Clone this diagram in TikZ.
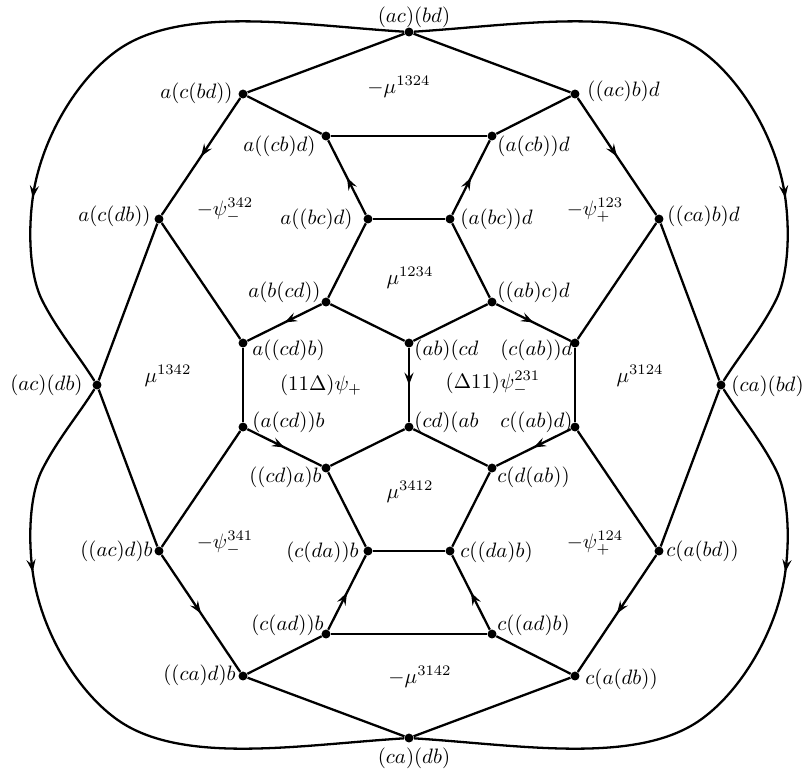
\documentclass[tikz,border=0pt]{standalone}
\usetikzlibrary{arrows.meta,decorations.markings}
\begin{document}
\begin{tikzpicture}[x=0.48pt,y=-0.48pt,
  dot/.style={circle,fill=black,inner sep=0pt,minimum size=4.3pt},
  edge/.style={line width=1.1pt},
  midarrow/.style={decoration={markings,mark=at position 0.5 with {\arrow{Stealth[length=6pt,width=4.4pt,inset=2.2pt]}}},postaction={decorate}},
  outerarrow/.style={decoration={markings,mark=at position #1 with {\arrow{Stealth[length=6pt,width=4.4pt,inset=2.2pt]}}},postaction={decorate}},
  lab/.style={inner sep=0pt}]
\useasboundingbox (0,0) rectangle (806,775);
% vertices
\node[dot] (T) at (409,32) {};
\node[dot] (n1) at (243,94) {};
\node[dot] (n2) at (575,94) {};
\node[dot] (n3) at (326,136) {};
\node[dot] (n4) at (492,136) {};
\node[dot] (n5) at (159,219) {};
\node[dot] (n6) at (368,219) {};
\node[dot] (n7) at (450,219) {};
\node[dot] (n8) at (659,219) {};
\node[dot] (n9) at (326,302) {};
\node[dot] (n10) at (492,302) {};
\node[dot] (n11) at (243,343) {};
\node[dot] (n12) at (409,343) {};
\node[dot] (n13) at (575,343) {};
\node[dot] (L) at (97,385) {};
\node[dot] (R) at (721,385) {};
\node[dot] (n14) at (243,427) {};
\node[dot] (n15) at (409,427) {};
\node[dot] (n16) at (575,427) {};
\node[dot] (n17) at (326,468) {};
\node[dot] (n18) at (492,468) {};
\node[dot] (n19) at (159,551) {};
\node[dot] (n20) at (368,551) {};
\node[dot] (n21) at (450,551) {};
\node[dot] (n22) at (659,551) {};
\node[dot] (n23) at (326,634) {};
\node[dot] (n24) at (492,634) {};
\node[dot] (n25) at (243,676) {};
\node[dot] (n26) at (575,676) {};
\node[dot] (B) at (409,738) {};
% plain edges
\draw[edge] (T) -- (n1);
\draw[edge] (T) -- (n2);
\draw[edge] (n1) -- (n3);
\draw[edge] (n3) -- (n4);
\draw[edge] (n4) -- (n2);
\draw[edge] (n6) -- (n7);
\draw[edge] (n6) -- (n9);
\draw[edge] (n7) -- (n10);
\draw[edge] (n5) -- (n11);
\draw[edge] (n5) -- (L);
\draw[edge] (n8) -- (n13);
\draw[edge] (n8) -- (R);
\draw[edge] (n9) -- (n12);
\draw[edge] (n10) -- (n12);
\draw[edge] (n11) -- (n14);
\draw[edge] (n13) -- (n16);
\draw[edge] (n15) -- (n17);
\draw[edge] (n15) -- (n18);
\draw[edge] (n14) -- (n19);
\draw[edge] (n16) -- (n22);
\draw[edge] (n17) -- (n20);
\draw[edge] (n18) -- (n21);
\draw[edge] (n20) -- (n21);
\draw[edge] (L) -- (n19);
\draw[edge] (n23) -- (n24);
\draw[edge] (n23) -- (n25);
\draw[edge] (n24) -- (n26);
\draw[edge] (n25) -- (B);
\draw[edge] (n26) -- (B);
\draw[edge] (R) -- (n22);
% arrowed edges
\draw[edge,midarrow] (n1) -- (n5);
\draw[edge,midarrow] (n2) -- (n8);
\draw[edge,midarrow] (n6) -- (n3);
\draw[edge,midarrow] (n7) -- (n4);
\draw[edge,midarrow] (n9) -- (n11);
\draw[edge,midarrow] (n10) -- (n13);
\draw[edge,midarrow] (n12) -- (n15);
\draw[edge,midarrow] (n14) -- (n17);
\draw[edge,midarrow] (n16) -- (n18);
\draw[edge,midarrow] (n19) -- (n25);
\draw[edge,midarrow] (n22) -- (n26);
\draw[edge,midarrow] (n23) -- (n20);
\draw[edge,midarrow] (n24) -- (n21);
% outer curves
\draw[edge,outerarrow=0.70] (T) .. controls (298,25) and (179,4) .. (115,52)
  .. controls (80,78) and (48,128) .. (36,180)
  .. controls (28,214) and (27,270) .. (42,300)
  .. controls (57,330) and (79,356) .. (L);
\draw[edge,outerarrow=0.70] (T) .. controls (520,25) and (639,4) .. (703,52)
  .. controls (738,78) and (770,128) .. (782,180)
  .. controls (790,214) and (791,270) .. (776,300)
  .. controls (761,330) and (739,356) .. (R);
\draw[edge,outerarrow=0.30] (L) .. controls (79,414) and (57,440) .. (42,470)
  .. controls (27,500) and (28,556) .. (36,590)
  .. controls (48,642) and (80,692) .. (115,718)
  .. controls (179,766) and (298,745) .. (B);
\draw[edge,outerarrow=0.30] (R) .. controls (739,414) and (761,440) .. (776,470)
  .. controls (791,500) and (790,556) .. (782,590)
  .. controls (770,642) and (738,692) .. (703,718)
  .. controls (639,766) and (520,745) .. (B);
% vertex labels
\node[lab] (tT) at (414,17) {$(ac)(bd)$};
\node[lab,anchor=east] (t1) at (233,93) {$a(c(bd))$};
\node[lab,anchor=west] (t2) at (587,91) {$((ac)b)d$};
\node[lab,anchor=east] (t3) at (316,146) {$a((cb)d)$};
\node[lab,anchor=west] (t4) at (497,146) {$(a(cb))d$};
\node[lab,anchor=east] (t5) at (151,216) {$a(c(db))$};
\node[lab,anchor=east] (t6) at (353,219) {$a((bc)d)$};
\node[lab,anchor=west] (t7) at (460,219) {$(a(bc))d$};
\node[lab,anchor=west] (t8) at (667,216) {$((ca)b)d$};
\node[lab,anchor=east] (t9) at (321,292) {$a(b(cd))$};
\node[lab,anchor=west] (t10) at (497,292) {$((ab)c)d$};
\node[lab,anchor=west] (t11) at (252,350) {$a((cd)b)$};
\node[lab,anchor=west] (t12) at (414,350) {$(ab)(cd$};
\node[lab,anchor=east] (t13) at (573,350) {$(c(ab))d$};
\node[lab,anchor=east] (tL) at (83,385) {$(ac)(db)$};
\node[lab,anchor=west] (tR) at (731,386) {$(ca)(bd)$};
\node[lab,anchor=west] (t14) at (252,422) {$(a(cd))b$};
\node[lab,anchor=west] (t15) at (414,422) {$(cd)(ab$};
\node[lab,anchor=east] (t16) at (573,422) {$c((ab)d)$};
\node[lab,anchor=east] (t17) at (322,477) {$((cd)a)b$};
\node[lab,anchor=west] (t18) at (497,477) {$c(d(ab))$};
\node[lab,anchor=east] (t19) at (153,551) {$((ac)d)b$};
\node[lab,anchor=east] (t20) at (359,552) {$(c(da))b$};
\node[lab,anchor=west] (t21) at (460,552) {$c((da)b)$};
\node[lab,anchor=west] (t22) at (666,551) {$c(a(bd))$};
\node[lab,anchor=east] (t23) at (324,625) {$(c(ad))b$};
\node[lab,anchor=west] (t24) at (497,625) {$c((ad)b)$};
\node[lab,anchor=east] (t25) at (236,675) {$((ca)d)b$};
\node[lab,anchor=west] (t26) at (585,679) {$c(a(db))$};
\node[lab] (tB) at (414,758) {$(ca)(db)$};
% face labels
\node[lab] (f1) at (399,87) {$-\mu^{1324}$};
\node[lab] (f2) at (225,210) {$-\psi_-^{342}$};
\node[lab] (f3) at (595,210) {$-\psi_+^{123}$};
\node[lab] (f4) at (410,278) {$\mu^{1234}$};
\node[lab] (f5) at (168,376) {$\mu^{1342}$};
\node[lab] (f6) at (321,385) {$(11\Delta)\psi_+$};
\node[lab] (f7) at (493,383) {$(\Delta11)\psi_-^{231}$};
\node[lab] (f8) at (640,376) {$\mu^{3124}$};
\node[lab] (f9) at (410,492) {$\mu^{3412}$};
\node[lab] (f10) at (225,543) {$-\psi_-^{341}$};
\node[lab] (f11) at (595,543) {$-\psi_+^{124}$};
\node[lab] (f12) at (420,677) {$-\mu^{3142}$};
\end{tikzpicture}
\end{document}
